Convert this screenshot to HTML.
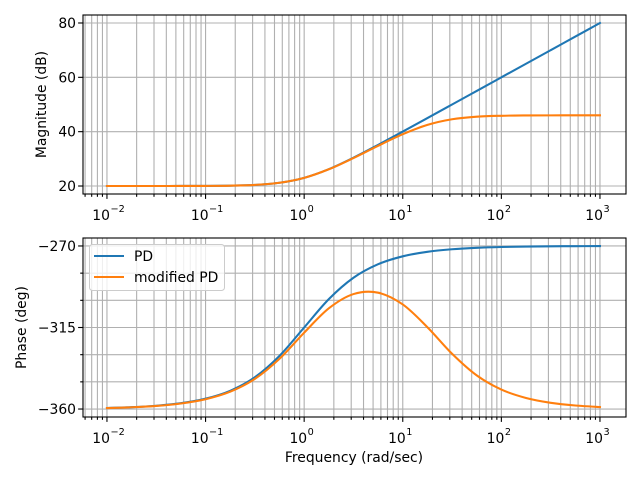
<!DOCTYPE html>
<html><head><meta charset="utf-8"><style>
body{margin:0;background:#fff}
svg{font-family:"DejaVu Sans","Liberation Sans",sans-serif}
</style></head><body>
<svg id="chart" width="640" height="480" xmlns="http://www.w3.org/2000/svg"></svg>
<script>
const logFreqs = [-2,-1.75,-1.5,-1.25,-1,-0.75,-0.5,-0.25,0,0.25,0.5,0.75,1,1.25,1.5,1.75,2,2.25,2.5,2.75,3];
const magPD = [20.0,20.001,20.004,20.014,20.043,20.135,20.41,21.19,23.01,26.19,30.41,35.13,40.04,45.01,50.0,55.0,60.0,65.0,70.0,75.0,80.0];
const magMod = [20.0,20.001,20.004,20.014,20.04,20.13,20.41,21.19,23.0,26.16,30.3,34.8,39.07,42.48,44.56,45.51,45.85,45.97,46.0,46.02,46.02];
const phPD = [-359.43,-358.98,-358.19,-356.78,-354.29,-349.92,-342.45,-330.65,-315,-299.35,-287.55,-280.08,-275.71,-273.22,-271.81,-271.02,-270.57,-270.32,-270.18,-270.1,-270.06];
const phMod = [-359.46,-359.03,-358.28,-356.94,-354.58,-350.43,-343.36,-332.26,-317.86,-304.43,-296.54,-295.78,-302.28,-314.85,-329.5,-341.44,-349.26,-353.9,-356.56,-358.06,-358.91];
const magTicks = [20,40,60,80];
const phTicks = [-270,-315,-360];
const phMinor = [-285,-300,-330,-345];
const xDecades = [-2,-1,0,1,2,3];
const seriesNames = ["PD","modified PD"];

const NS="http://www.w3.org/2000/svg";
const svg=document.getElementById('chart');
function mk(tag,attrs,parent){const e=document.createElementNS(NS,tag);for(const k in attrs)e.setAttribute(k,attrs[k]);(parent||svg).appendChild(e);return e;}
const X0=83,X1=626,LX0=-2.243,LX1=3.264;
function xs(l){return X0+(l-LX0)/(LX1-LX0)*(X1-X0);}
const topP={y0:15,y1:194,v0:82.94,v1:17.06};
const botP={y0:238,y1:417,v0:-265.6,v1:-364.4};
function ys(p,v){return p.y0+(v-p.v0)/(p.v1-p.v0)*(p.y1-p.y0);}
const C1="#1f77b4",C2="#ff7f0e";

function smoothPath(xsArr,ysArr){
  let d="M"+xsArr[0].toFixed(2)+","+ysArr[0].toFixed(2);
  const n=xsArr.length;
  for(let i=0;i<n-1;i++){
    const x0=xsArr[Math.max(i-1,0)],y0=ysArr[Math.max(i-1,0)];
    const x1=xsArr[i],y1=ysArr[i],x2=xsArr[i+1],y2=ysArr[i+1];
    const x3=xsArr[Math.min(i+2,n-1)],y3=ysArr[Math.min(i+2,n-1)];
    d+=" C"+(x1+(x2-x0)/6).toFixed(2)+","+(y1+(y2-y0)/6).toFixed(2)+" "+(x2-(x3-x1)/6).toFixed(2)+","+(y2-(y3-y1)/6).toFixed(2)+" "+x2.toFixed(2)+","+y2.toFixed(2);
  }
  return d;
}

function panel(p,name,yTicks,yMinor,ylabel,ylabelX,series){
  const g=mk('g',{});
  
  
  for(let dec=-3;dec<=3;dec++){
    for(let m=1;m<=9;m++){
      const l=dec+Math.log10(m);
      if(l<LX0||l>LX1)continue;
      const x=xs(l);
      const gl=mk('line',{x1:x,x2:x,y1:p.y0,y2:p.y1,stroke:'#b0b0b0','stroke-width':1.1},g);
      
      
      const tl=m===1?4.9:2.8;
      mk('line',{x1:x,x2:x,y1:p.y1,y2:p.y1+tl,stroke:'#000','stroke-width':1.1},g);
    }
  }
  yTicks.concat(yMinor).forEach((v,i)=>{
    const y=ys(p,v);
    const gl=mk('line',{x1:X0,x2:X1,y1:y,y2:y,stroke:'#b0b0b0','stroke-width':1.1},g);
    
    
    mk('line',{x1:X0-(i<yTicks.length?4.9:2.8),x2:X0,y1:y,y2:y,stroke:'#000','stroke-width':1.1},g);
  });
  yTicks.forEach(v=>{
    const t=mk('text',{x:X0-7,y:ys(p,v)+5,'text-anchor':'end','font-size':'13.9px',fill:'#000'},g);
    t.textContent=(v<0?'\u2212'+(-v):String(v));
    
    
  });
  xDecades.forEach(d=>{
    const t=mk('text',{x:xs(d)+3,y:p.y1+26,'text-anchor':'end','font-size':'13.9px',fill:'#000'},g);
    t.textContent='10';
    
    
    const s=mk('text',{x:xs(d)+3.5,y:p.y1+18,'text-anchor':'start','font-size':'9.7px',fill:'#000'},g);
    s.textContent=(d<0?'\u2212'+(-d):String(d));
    
    
  });
  series.forEach(s=>{
    const xa=logFreqs.map(xs),ya=s.vals.map(v=>ys(p,v));
    const path=mk('path',{d:smoothPath(xa,ya),fill:'none',stroke:s.color,'stroke-width':2.08,'stroke-linecap':'square'},g);
    
    
  });
  const fr=mk('rect',{x:X0,y:p.y0,width:X1-X0,height:p.y1-p.y0,fill:'none',stroke:'#000','stroke-width':1.1},g);
  
  
  const cy=(p.y0+p.y1)/2;
  const yl=mk('text',{x:ylabelX,y:cy,'text-anchor':'middle','font-size':'13.9px',fill:'#000',transform:`rotate(-90 ${ylabelX} ${cy})`},g);
  yl.textContent=ylabel;
  
  
}
panel(topP,'magnitude-panel',magTicks,[],'Magnitude (dB)',46,[{vals:magPD,color:C1,name:'pd-magnitude-line'},{vals:magMod,color:C2,name:'modified-pd-magnitude-line'}]);
panel(botP,'phase-panel',phTicks,phMinor,'Phase (deg)',26,[{vals:phPD,color:C1,name:'pd-phase-line'},{vals:phMod,color:C2,name:'modified-pd-phase-line'}]);

const xl=mk('text',{x:354,y:462,'text-anchor':'middle','font-size':'13.9px',fill:'#000'});
xl.textContent='Frequency (rad/sec)';



const lg=mk('g',{});


const lr=mk('rect',{x:89.5,y:244.5,width:135,height:46,rx:3,fill:'#fff','fill-opacity':0.8,stroke:'#ccc','stroke-width':1},lg);


[C1,C2].forEach((c,i)=>{
  const y=256+i*21;
  const ln=mk('line',{x1:94,x2:124,y1:y,y2:y,stroke:c,'stroke-width':2.08},lg);
  
  
  const t=mk('text',{x:134,y:y+5,'font-size':'13.9px',fill:'#000'},lg);
  t.textContent=seriesNames[i];
  
  
});
</script>
</body></html>
